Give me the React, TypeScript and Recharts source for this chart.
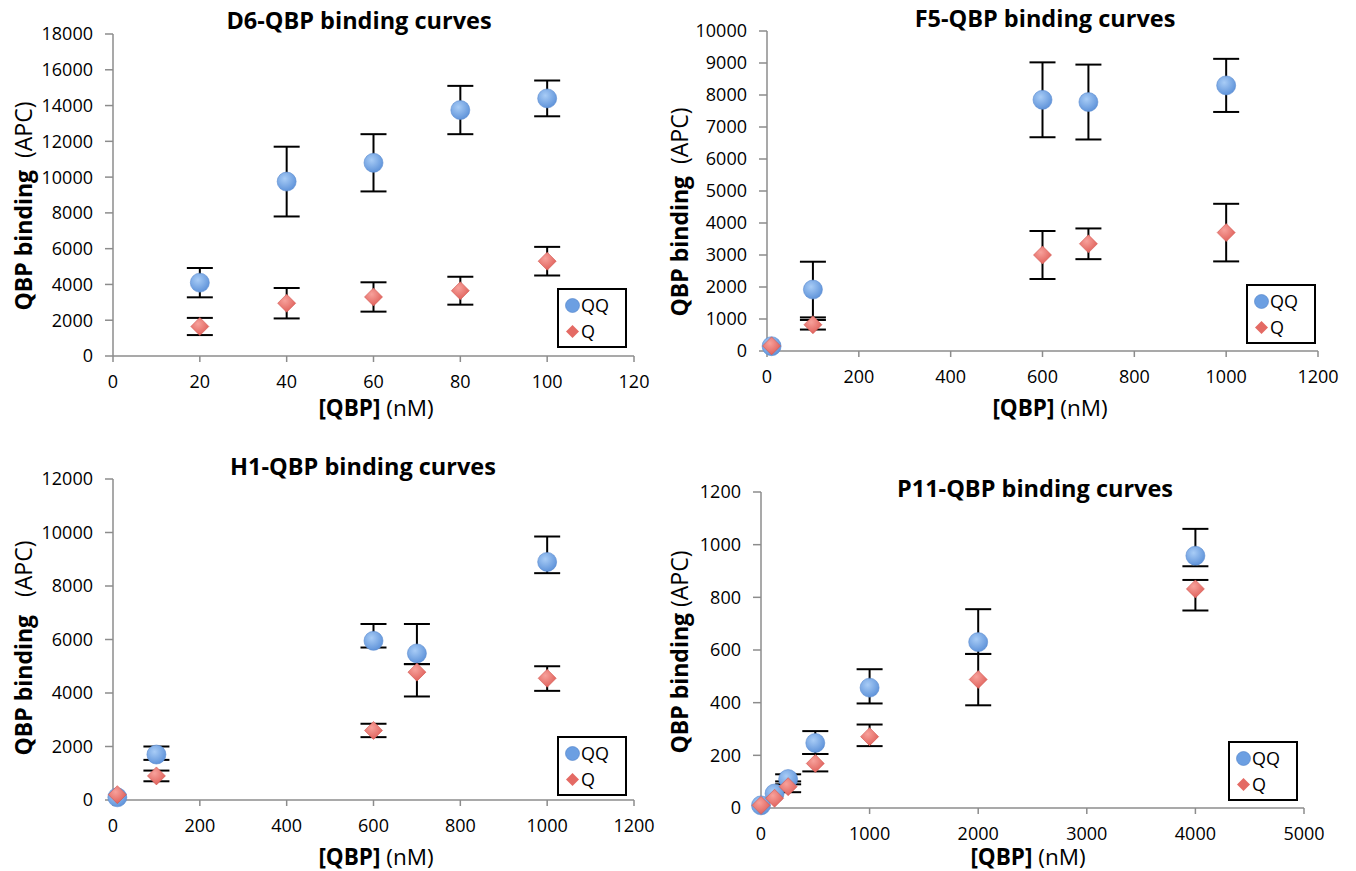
import React from 'react';
import { ScatterChart, Scatter, XAxis, YAxis, ErrorBar, Legend } from 'recharts';

const FONT = '"Open Sans", Lato, sans-serif';
const AXIS_COLOR = '#8c8c8c';
const SERIES_NAMES = ['QQ', 'Q'];

// ---- D6 panel ----
const d6Title = 'D6-QBP binding curves';
const d6Conc = [20, 40, 60, 80, 100];
const d6QQ = [4100, 9750, 10800, 13750, 14400];
const d6QQErr = [820, 1950, 1600, 1350, 1000];
const d6Q = [1650, 2950, 3300, 3650, 5300];
const d6QErr = [480, 850, 820, 780, 800];
const d6XTicks = [0, 20, 40, 60, 80, 100, 120];
const d6YTicks = [0, 2000, 4000, 6000, 8000, 10000, 12000, 14000, 16000, 18000];

// ---- F5 panel ----
const f5Title = 'F5-QBP binding curves';
const f5Conc = [10, 100, 600, 700, 1000];
const f5QQ = [150, 1920, 7850, 7780, 8300];
const f5QQErr = [0, 870, 1170, 1170, 830];
const f5Q = [160, 820, 3000, 3350, 3700];
const f5QErr = [0, 150, 750, 480, 900];
const f5XTicks = [0, 200, 400, 600, 800, 1000, 1200];
const f5YTicks = [0, 1000, 2000, 3000, 4000, 5000, 6000, 7000, 8000, 9000, 10000];

// ---- H1 panel ----
const h1Title = 'H1-QBP binding curves';
const h1Conc = [10, 100, 600, 700, 1000];
const h1QQ = [100, 1700, 5950, 5480, 8900];
const h1QQErr: (number | number[])[] = [0, [200, 300], [250, 630], [400, 1100], [420, 950]];
const h1Q = [200, 900, 2600, 4780, 4550];
const h1QErr: (number | number[])[] = [0, 200, 250, [910, 300], [470, 450]];
const h1XTicks = [0, 200, 400, 600, 800, 1000, 1200];
const h1YTicks = [0, 2000, 4000, 6000, 8000, 10000, 12000];

// ---- P11 panel ----
const p11Title = 'P11-QBP binding curves';
const p11Conc = [0, 125, 250, 500, 1000, 2000, 4000];
const p11QQ = [10, 55, 110, 247, 457, 630, 958];
const p11QQErr: (number | number[])[] = [0, 0, [20, 18], [42, 45], [60, 70], [45, 125], [40, 102]];
const p11Q = [10, 37, 81, 169, 271, 488, 832];
const p11QErr: (number | number[])[] = [0, 0, [21, 20], [30, 36], [36, 46], [98, 97], [82, 34]];
const p11XTicks = [0, 1000, 2000, 3000, 4000, 5000];
const p11YTicks = [0, 200, 400, 600, 800, 1000, 1200];

type Row = { x: number; y: number; err: number | number[] };
const build = (xs: number[], ys: number[], errs: (number | number[])[]): Row[] =>
  xs.map((x, i) => ({ x, y: ys[i], err: errs[i] }));

const makeCircle = (gid: string) => (props: any) => {
  const { cx, cy } = props;
  if (cx == null || cy == null) return <g />;
  return <circle cx={cx} cy={cy} r={9.5} fill={`url(#${gid})`} stroke="#5a8cd0" strokeWidth={0.6} />;
};
const makeDiamond = (gid: string) => (props: any) => {
  const { cx, cy } = props;
  if (cx == null || cy == null) return <g />;
  const s = 9;
  return (
    <path
      d={`M${cx},${cy - s} L${cx + s},${cy} L${cx},${cy + s} L${cx - s},${cy} Z`}
      fill={`url(#${gid})`}
      stroke="#d4554f"
      strokeWidth={0.6}
    />
  );
};

const LegendBox = () => (
  <div
    style={{
      border: '2px solid #000',
      background: '#fff',
      padding: '2px 4px 2px 6px',
      fontFamily: FONT,
      fontSize: 18,
      lineHeight: '26px',
      boxSizing: 'border-box',
      width: 70,
      color: '#000',
    }}
  >
    <div style={{ display: 'flex', alignItems: 'center' }}>
      <svg width={15} height={15} style={{ marginRight: 1 }}>
        <circle cx={7.5} cy={7.5} r={7} fill="#6c9fe2" stroke="#4f82c8" strokeWidth={0.6} />
      </svg>
      <span>{SERIES_NAMES[0]}</span>
    </div>
    <div style={{ display: 'flex', alignItems: 'center' }}>
      <svg width={15} height={15} style={{ marginRight: 1 }}>
        <path d="M7.5,1 L14,7.5 L7.5,14 L1,7.5 Z" fill="#e46a64" />
      </svg>
      <span>{SERIES_NAMES[1]}</span>
    </div>
  </div>
);

type PanelCfg = {
  id: string;
  title: string;
  conc: number[];
  qq: number[];
  qqErr: (number | number[])[];
  q: number[];
  qErr: (number | number[])[];
  xTicks: number[];
  yTicks: number[];
  plotLeft: number;
  plotRight: number;
  plotTop: number;
  plotBottom: number;
  legendX: number;
  legendY: number;
  titleX: number;
  titleY: number;
  yTitleX: number;
  yTitleY: number;
  yTitleGap: string;
  xTitleX: number;
  xTitleY: number;
};

const Y_AXIS_W = 80;
const X_AXIS_H = 40;
const M_TOP = 20;
const M_RIGHT = 30;

function Panel({ cfg }: { cfg: PanelCfg }) {
  const qqData = build(cfg.conc, cfg.qq, cfg.qqErr);
  const qData = build(cfg.conc, cfg.q, cfg.qErr);
  const left = cfg.plotLeft - Y_AXIS_W;
  const top = cfg.plotTop - M_TOP;
  const w = cfg.plotRight - cfg.plotLeft + Y_AXIS_W + M_RIGHT;
  const h = cfg.plotBottom - cfg.plotTop + M_TOP + X_AXIS_H;
  const gB = `gb-${cfg.id}`;
  const gR = `gr-${cfg.id}`;
  const tickStyle = { fontFamily: FONT, fontSize: 18, fill: '#000' };
  return (
    <>
      <div style={{ position: 'absolute', left, top }}>
        <ScatterChart width={w} height={h} margin={{ top: M_TOP, right: M_RIGHT, left: 0, bottom: 0 }}>
          <defs>
            <radialGradient id={gB} cx="40%" cy="35%" r="70%">
              <stop offset="0%" stopColor="#a8ccf6" />
              <stop offset="100%" stopColor="#5b90d8" />
            </radialGradient>
            <radialGradient id={gR} cx="40%" cy="35%" r="70%">
              <stop offset="0%" stopColor="#f7a19b" />
              <stop offset="100%" stopColor="#de5d57" />
            </radialGradient>
          </defs>
          <XAxis
            type="number"
            dataKey="x"
            domain={[cfg.xTicks[0], cfg.xTicks[cfg.xTicks.length - 1]]}
            ticks={cfg.xTicks}
            interval={0}
            height={X_AXIS_H}
            tick={tickStyle}
            tickSize={6}
            tickMargin={13}
            axisLine={{ stroke: AXIS_COLOR, strokeWidth: 1.5 }}
            tickLine={{ stroke: AXIS_COLOR, strokeWidth: 1.5 }}
          />
          <YAxis
            type="number"
            dataKey="y"
            domain={[cfg.yTicks[0], cfg.yTicks[cfg.yTicks.length - 1]]}
            ticks={cfg.yTicks}
            interval={0}
            width={Y_AXIS_W}
            tick={tickStyle}
            tickSize={8}
            tickMargin={12}
            axisLine={{ stroke: AXIS_COLOR, strokeWidth: 1.5 }}
            tickLine={{ stroke: AXIS_COLOR, strokeWidth: 1.5 }}
          />
          <Scatter name={SERIES_NAMES[0]} data={qqData} shape={makeCircle(gB)} isAnimationActive={false}>
            <ErrorBar dataKey="err" direction="y" width={13} strokeWidth={2} stroke="#000" />
          </Scatter>
          <Scatter name={SERIES_NAMES[1]} data={qData} shape={makeDiamond(gR)} isAnimationActive={false}>
            <ErrorBar dataKey="err" direction="y" width={13} strokeWidth={2} stroke="#000" />
          </Scatter>
          <Legend
            layout="vertical"
            align="center"
            verticalAlign="middle"
            wrapperStyle={{ left: cfg.legendX - left, top: cfg.legendY - top, width: 70 }}
            content={LegendBox}
          />
        </ScatterChart>
      </div>
      <div
        style={{
          position: 'absolute',
          left: cfg.titleX,
          top: cfg.titleY,
          transform: 'translate(-50%, -50%)',
          fontFamily: FONT,
          fontWeight: 700,
          fontSize: 23.5,
          lineHeight: '26px',
          whiteSpace: 'nowrap',
          color: '#000',
        }}
      >
        {cfg.title}
      </div>
      <div
        style={{
          position: 'absolute',
          left: cfg.yTitleX,
          top: cfg.yTitleY,
          transform: 'translate(-50%, -50%) rotate(-90deg)',
          fontFamily: FONT,
          fontSize: 23,
          lineHeight: '26px',
          whiteSpace: 'pre',
          color: '#000',
        }}
      >
        <span style={{ fontWeight: 700 }}>QBP binding</span>
        <span>{cfg.yTitleGap + '(APC)'}</span>
      </div>
      <div
        style={{
          position: 'absolute',
          left: cfg.xTitleX,
          top: cfg.xTitleY,
          transform: 'translate(-50%, -50%)',
          fontFamily: FONT,
          fontSize: 22.5,
          lineHeight: '20px',
          whiteSpace: 'pre',
          color: '#000',
        }}
      >
        <span style={{ fontWeight: 700 }}>[QBP]</span>
        <span>{' (nM)'}</span>
      </div>
    </>
  );
}

const panels: PanelCfg[] = [
  {
    id: 'd6', title: d6Title, conc: d6Conc, qq: d6QQ, qqErr: d6QQErr, q: d6Q, qErr: d6QErr,
    xTicks: d6XTicks, yTicks: d6YTicks,
    plotLeft: 113, plotRight: 634, plotTop: 34, plotBottom: 356,
    legendX: 557, legendY: 288, titleX: 359, titleY: 20,
    yTitleX: 23, yTitleY: 206, yTitleGap: '  ', xTitleX: 376, xTitleY: 408,
  },
  {
    id: 'f5', title: f5Title, conc: f5Conc, qq: f5QQ, qqErr: f5QQErr, q: f5Q, qErr: f5QErr,
    xTicks: f5XTicks, yTicks: f5YTicks,
    plotLeft: 767, plotRight: 1318, plotTop: 31, plotBottom: 351,
    legendX: 1246, legendY: 284, titleX: 1045, titleY: 18,
    yTitleX: 679, yTitleY: 212, yTitleGap: '  ', xTitleX: 1050, xTitleY: 408,
  },
  {
    id: 'h1', title: h1Title, conc: h1Conc, qq: h1QQ, qqErr: h1QQErr, q: h1Q, qErr: h1QErr,
    xTicks: h1XTicks, yTicks: h1YTicks,
    plotLeft: 113, plotRight: 634, plotTop: 479, plotBottom: 800,
    legendX: 557, legendY: 736, titleX: 363, titleY: 466,
    yTitleX: 23, yTitleY: 648, yTitleGap: '   ', xTitleX: 376, xTitleY: 857,
  },
  {
    id: 'p11', title: p11Title, conc: p11Conc, qq: p11QQ, qqErr: p11QQErr, q: p11Q, qErr: p11QErr,
    xTicks: p11XTicks, yTicks: p11YTicks,
    plotLeft: 761, plotRight: 1304, plotTop: 492, plotBottom: 808,
    legendX: 1228, legendY: 741, titleX: 1035, titleY: 488,
    yTitleX: 679, yTitleY: 652, yTitleGap: ' ', xTitleX: 1028, xTitleY: 857,
  },
];

export default function App() {
  return (
    <div style={{ position: 'absolute', left: 0, top: 0, width: 1356, height: 871, background: '#fff', overflow: 'hidden' }}>
      {panels.map((p) => (
        <Panel key={p.id} cfg={p} />
      ))}
    </div>
  );
}
